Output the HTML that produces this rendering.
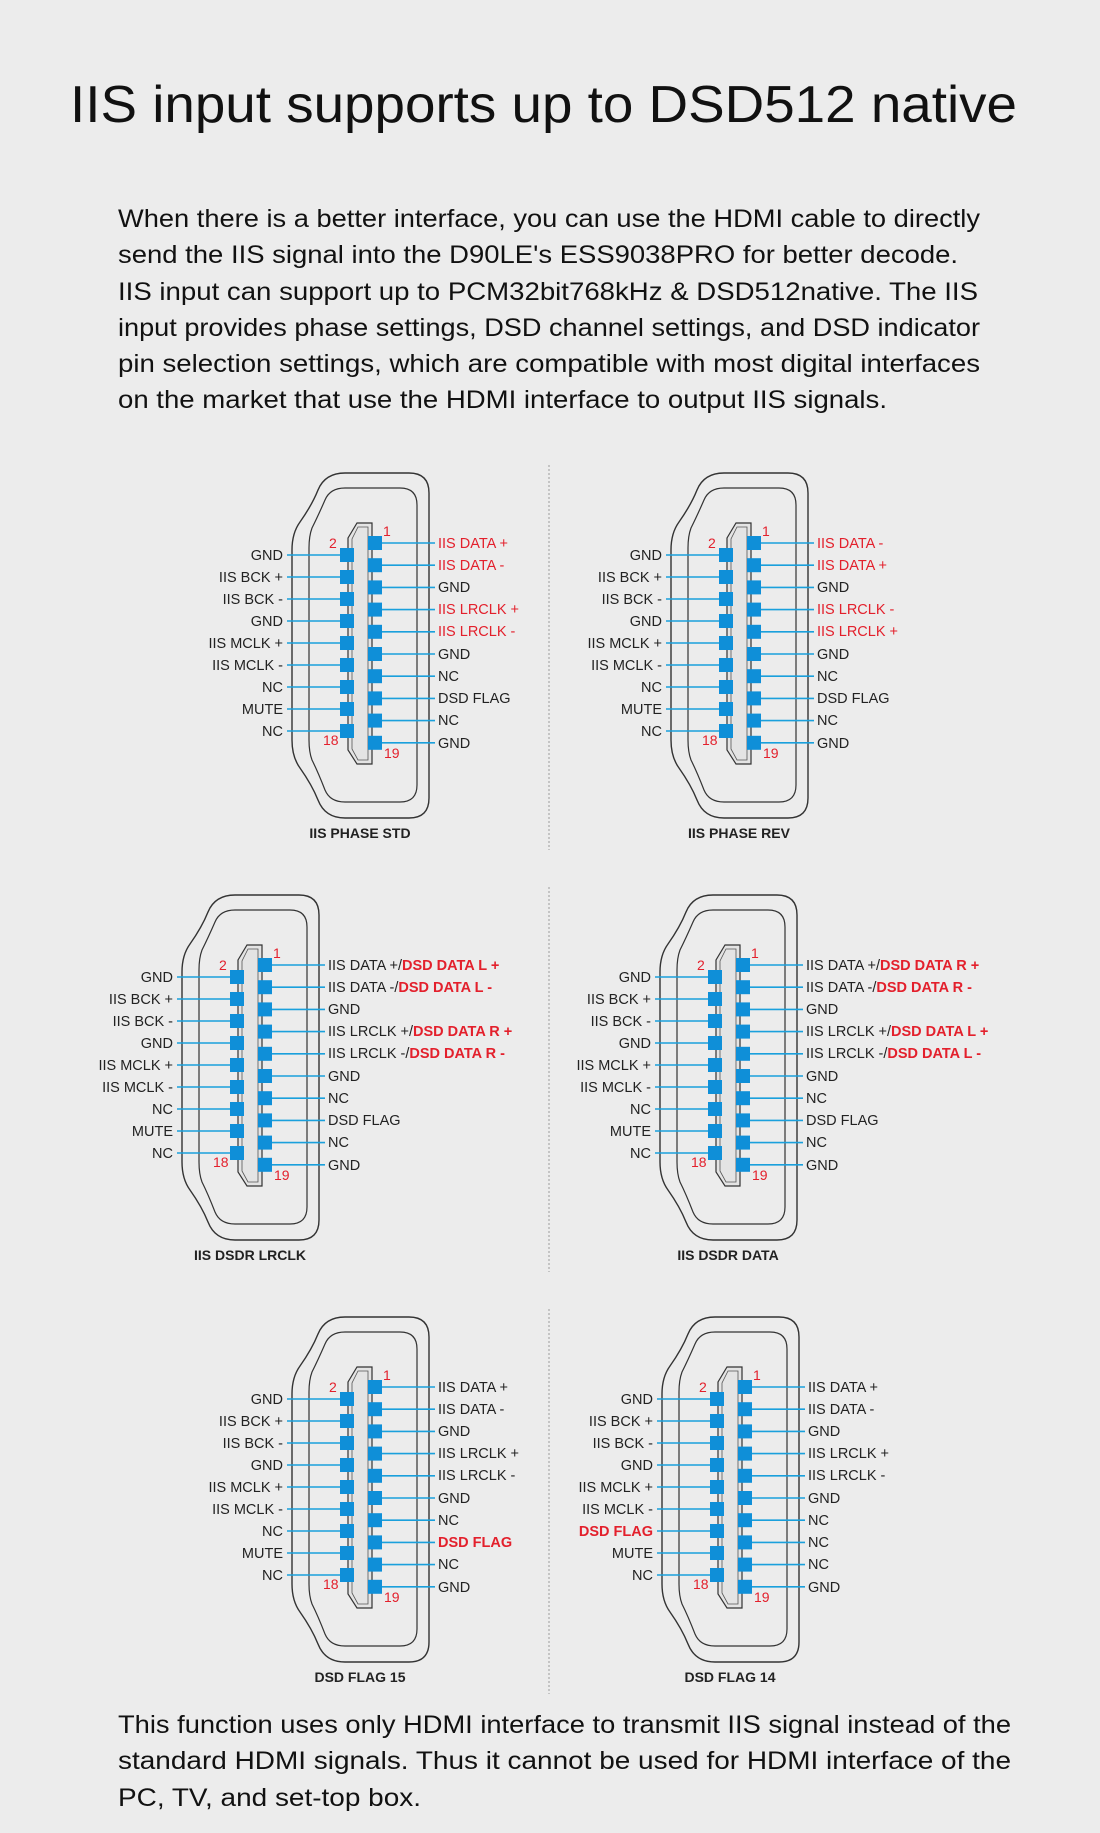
<!DOCTYPE html>
<html><head><meta charset="utf-8"><style>
html,body{margin:0;padding:0;background:#ececec}
svg{display:block}
text{font-family:"Liberation Sans",Arial,sans-serif}
.l{font-size:14.5px;fill:#222;text-anchor:end}
.r{font-size:14.5px;fill:#222}
.red{fill:#e3202c}
.b{font-weight:bold}
.n{font-size:14px;fill:#e3202c}
.t{font-size:14px;font-weight:bold;fill:#222;text-anchor:middle}
</style></head><body>
<svg width="1100" height="1833" viewBox="0 0 1100 1833" xmlns="http://www.w3.org/2000/svg">
<rect width="1100" height="1833" fill="#ececec"/>
<defs>
<g id="conn">
<path d="M345 473 L409 473 Q429 473 429 493 L429 798 Q429 818 409 818 L345 818 Q325 818 318 800 Q312 785 300 768 Q292 757 292 740 L292 550 Q292 533 300 522 Q312 505 318 490 Q325 473 345 473 Z" fill="none" stroke="#333" stroke-width="1.4"/>
<path d="M345 488 L400 488 Q417 488 417 505 L417 785 Q417 802 400 802 L345 802 Q330 802 325 790 Q318 772 312 760 Q309 752 309 740 L309 548 Q309 536 312 528 Q318 516 325 500 Q330 488 345 488 Z" fill="none" stroke="#333" stroke-width="1.2"/>
<path d="M357 523 L372 523 L372 764 L357 764 L348 750 L348 538 Z" fill="#e4e4e4" stroke="#333" stroke-width="1.2"/>
<path d="M358 527 L368 527 L368 760 L358 760 L352 749 L352 539 Z" fill="none" stroke="#555" stroke-width="0.8"/>
<g stroke="#1aa0dc" stroke-width="1.6">
<line x1="287" y1="555" x2="340" y2="555"/><line x1="287" y1="577" x2="340" y2="577"/><line x1="287" y1="599" x2="340" y2="599"/><line x1="287" y1="621" x2="340" y2="621"/><line x1="287" y1="643" x2="340" y2="643"/><line x1="287" y1="665" x2="340" y2="665"/><line x1="287" y1="687" x2="340" y2="687"/><line x1="287" y1="709" x2="340" y2="709"/><line x1="287" y1="731" x2="340" y2="731"/>
<line x1="382" y1="543" x2="435" y2="543"/><line x1="382" y1="565.2" x2="435" y2="565.2"/><line x1="382" y1="587.4" x2="435" y2="587.4"/><line x1="382" y1="609.6" x2="435" y2="609.6"/><line x1="382" y1="631.8" x2="435" y2="631.8"/><line x1="382" y1="654" x2="435" y2="654"/><line x1="382" y1="676.2" x2="435" y2="676.2"/><line x1="382" y1="698.4" x2="435" y2="698.4"/><line x1="382" y1="720.6" x2="435" y2="720.6"/><line x1="382" y1="742.8" x2="435" y2="742.8"/>
</g>
<g fill="#0f8fd8">
<rect x="340" y="548" width="14" height="14"/><rect x="340" y="570" width="14" height="14"/><rect x="340" y="592" width="14" height="14"/><rect x="340" y="614" width="14" height="14"/><rect x="340" y="636" width="14" height="14"/><rect x="340" y="658" width="14" height="14"/><rect x="340" y="680" width="14" height="14"/><rect x="340" y="702" width="14" height="14"/><rect x="340" y="724" width="14" height="14"/>
<rect x="368" y="536" width="14" height="14"/><rect x="368" y="558.2" width="14" height="14"/><rect x="368" y="580.4" width="14" height="14"/><rect x="368" y="602.6" width="14" height="14"/><rect x="368" y="624.8" width="14" height="14"/><rect x="368" y="647" width="14" height="14"/><rect x="368" y="669.2" width="14" height="14"/><rect x="368" y="691.4" width="14" height="14"/><rect x="368" y="713.6" width="14" height="14"/><rect x="368" y="735.8" width="14" height="14"/>
</g>
<text class="n" x="329" y="548">2</text><text class="n" x="383" y="536">1</text>
<text class="n" x="323" y="745">18</text><text class="n" x="384" y="758">19</text>
</g>
</defs>

<text x="70" y="122" font-size="52" fill="#111" textLength="947" lengthAdjust="spacingAndGlyphs">IIS input supports up to DSD512 native</text>
<g font-size="25" fill="#111">
<text x="118" y="227" textLength="862" lengthAdjust="spacingAndGlyphs">When there is a better interface, you can use the HDMI cable to directly</text>
<text x="118" y="263" textLength="840" lengthAdjust="spacingAndGlyphs">send the IIS signal into the D90LE's ESS9038PRO for better decode.</text>
<text x="118" y="300" textLength="860" lengthAdjust="spacingAndGlyphs">IIS input can support up to PCM32bit768kHz &amp; DSD512native. The IIS</text>
<text x="118" y="336" textLength="862" lengthAdjust="spacingAndGlyphs">input provides phase settings, DSD channel settings, and DSD indicator</text>
<text x="118" y="372" textLength="862" lengthAdjust="spacingAndGlyphs">pin selection settings, which are compatible with most digital interfaces</text>
<text x="118" y="408" textLength="769" lengthAdjust="spacingAndGlyphs">on the market that use the HDMI interface to output IIS signals.</text>
</g>

<g stroke="#aaa" stroke-width="1.2" stroke-dasharray="2 2">
<line x1="549" y1="465" x2="549" y2="850"/><line x1="549" y1="887" x2="549" y2="1272"/><line x1="549" y1="1309" x2="549" y2="1694"/>
</g>

<g>
<use href="#conn"/>
<text class="l" x="283" y="560">GND</text><text class="l" x="283" y="582">IIS BCK +</text><text class="l" x="283" y="604">IIS BCK -</text><text class="l" x="283" y="626">GND</text><text class="l" x="283" y="648">IIS MCLK +</text><text class="l" x="283" y="670">IIS MCLK -</text><text class="l" x="283" y="692">NC</text><text class="l" x="283" y="714">MUTE</text><text class="l" x="283" y="736">NC</text>
<text class="r red" x="438" y="548">IIS DATA +</text><text class="r red" x="438" y="570">IIS DATA -</text><text class="r" x="438" y="592">GND</text><text class="r red" x="438" y="614">IIS LRCLK +</text><text class="r red" x="438" y="636">IIS LRCLK -</text><text class="r" x="438" y="659">GND</text><text class="r" x="438" y="681">NC</text><text class="r" x="438" y="703">DSD FLAG</text><text class="r" x="438" y="725">NC</text><text class="r" x="438" y="748">GND</text>
<text class="t" x="360" y="838">IIS PHASE STD</text>
</g>
<g transform="translate(379,0)">
<use href="#conn"/>
<text class="l" x="283" y="560">GND</text><text class="l" x="283" y="582">IIS BCK +</text><text class="l" x="283" y="604">IIS BCK -</text><text class="l" x="283" y="626">GND</text><text class="l" x="283" y="648">IIS MCLK +</text><text class="l" x="283" y="670">IIS MCLK -</text><text class="l" x="283" y="692">NC</text><text class="l" x="283" y="714">MUTE</text><text class="l" x="283" y="736">NC</text>
<text class="r red" x="438" y="548">IIS DATA -</text><text class="r red" x="438" y="570">IIS DATA +</text><text class="r" x="438" y="592">GND</text><text class="r red" x="438" y="614">IIS LRCLK -</text><text class="r red" x="438" y="636">IIS LRCLK +</text><text class="r" x="438" y="659">GND</text><text class="r" x="438" y="681">NC</text><text class="r" x="438" y="703">DSD FLAG</text><text class="r" x="438" y="725">NC</text><text class="r" x="438" y="748">GND</text>
<text class="t" x="360" y="838">IIS PHASE REV</text>
</g>
<g transform="translate(-110,422)">
<use href="#conn"/>
<text class="l" x="283" y="560">GND</text><text class="l" x="283" y="582">IIS BCK +</text><text class="l" x="283" y="604">IIS BCK -</text><text class="l" x="283" y="626">GND</text><text class="l" x="283" y="648">IIS MCLK +</text><text class="l" x="283" y="670">IIS MCLK -</text><text class="l" x="283" y="692">NC</text><text class="l" x="283" y="714">MUTE</text><text class="l" x="283" y="736">NC</text>
<text class="r" x="438" y="548">IIS DATA +/<tspan class="red b">DSD DATA L +</tspan></text><text class="r" x="438" y="570">IIS DATA -/<tspan class="red b">DSD DATA L -</tspan></text><text class="r" x="438" y="592">GND</text><text class="r" x="438" y="614">IIS LRCLK +/<tspan class="red b">DSD DATA R +</tspan></text><text class="r" x="438" y="636">IIS LRCLK -/<tspan class="red b">DSD DATA R -</tspan></text><text class="r" x="438" y="659">GND</text><text class="r" x="438" y="681">NC</text><text class="r" x="438" y="703">DSD FLAG</text><text class="r" x="438" y="725">NC</text><text class="r" x="438" y="748">GND</text>
<text class="t" x="360" y="838">IIS DSDR LRCLK</text>
</g>
<g transform="translate(368,422)">
<use href="#conn"/>
<text class="l" x="283" y="560">GND</text><text class="l" x="283" y="582">IIS BCK +</text><text class="l" x="283" y="604">IIS BCK -</text><text class="l" x="283" y="626">GND</text><text class="l" x="283" y="648">IIS MCLK +</text><text class="l" x="283" y="670">IIS MCLK -</text><text class="l" x="283" y="692">NC</text><text class="l" x="283" y="714">MUTE</text><text class="l" x="283" y="736">NC</text>
<text class="r" x="438" y="548">IIS DATA +/<tspan class="red b">DSD DATA R +</tspan></text><text class="r" x="438" y="570">IIS DATA -/<tspan class="red b">DSD DATA R -</tspan></text><text class="r" x="438" y="592">GND</text><text class="r" x="438" y="614">IIS LRCLK +/<tspan class="red b">DSD DATA L +</tspan></text><text class="r" x="438" y="636">IIS LRCLK -/<tspan class="red b">DSD DATA L -</tspan></text><text class="r" x="438" y="659">GND</text><text class="r" x="438" y="681">NC</text><text class="r" x="438" y="703">DSD FLAG</text><text class="r" x="438" y="725">NC</text><text class="r" x="438" y="748">GND</text>
<text class="t" x="360" y="838">IIS DSDR DATA</text>
</g>
<g transform="translate(0,844)">
<use href="#conn"/>
<text class="l" x="283" y="560">GND</text><text class="l" x="283" y="582">IIS BCK +</text><text class="l" x="283" y="604">IIS BCK -</text><text class="l" x="283" y="626">GND</text><text class="l" x="283" y="648">IIS MCLK +</text><text class="l" x="283" y="670">IIS MCLK -</text><text class="l" x="283" y="692">NC</text><text class="l" x="283" y="714">MUTE</text><text class="l" x="283" y="736">NC</text>
<text class="r" x="438" y="548">IIS DATA +</text><text class="r" x="438" y="570">IIS DATA -</text><text class="r" x="438" y="592">GND</text><text class="r" x="438" y="614">IIS LRCLK +</text><text class="r" x="438" y="636">IIS LRCLK -</text><text class="r" x="438" y="659">GND</text><text class="r" x="438" y="681">NC</text><text class="r red b" x="438" y="703">DSD FLAG</text><text class="r" x="438" y="725">NC</text><text class="r" x="438" y="748">GND</text>
<text class="t" x="360" y="838">DSD FLAG 15</text>
</g>
<g transform="translate(370,844)">
<use href="#conn"/>
<text class="l" x="283" y="560">GND</text><text class="l" x="283" y="582">IIS BCK +</text><text class="l" x="283" y="604">IIS BCK -</text><text class="l" x="283" y="626">GND</text><text class="l" x="283" y="648">IIS MCLK +</text><text class="l" x="283" y="670">IIS MCLK -</text><text class="l red b" x="283" y="692">DSD FLAG</text><text class="l" x="283" y="714">MUTE</text><text class="l" x="283" y="736">NC</text>
<text class="r" x="438" y="548">IIS DATA +</text><text class="r" x="438" y="570">IIS DATA -</text><text class="r" x="438" y="592">GND</text><text class="r" x="438" y="614">IIS LRCLK +</text><text class="r" x="438" y="636">IIS LRCLK -</text><text class="r" x="438" y="659">GND</text><text class="r" x="438" y="681">NC</text><text class="r" x="438" y="703">NC</text><text class="r" x="438" y="725">NC</text><text class="r" x="438" y="748">GND</text>
<text class="t" x="360" y="838">DSD FLAG 14</text>
</g>

<g font-size="25" fill="#111">
<text x="118" y="1733" textLength="893" lengthAdjust="spacingAndGlyphs">This function uses only HDMI interface to transmit IIS signal instead of the</text>
<text x="118" y="1769" textLength="893" lengthAdjust="spacingAndGlyphs">standard HDMI signals. Thus it cannot be used for HDMI interface of the</text>
<text x="118" y="1806" textLength="303" lengthAdjust="spacingAndGlyphs">PC, TV, and set-top box.</text>
</g>
</svg>
</body></html>
